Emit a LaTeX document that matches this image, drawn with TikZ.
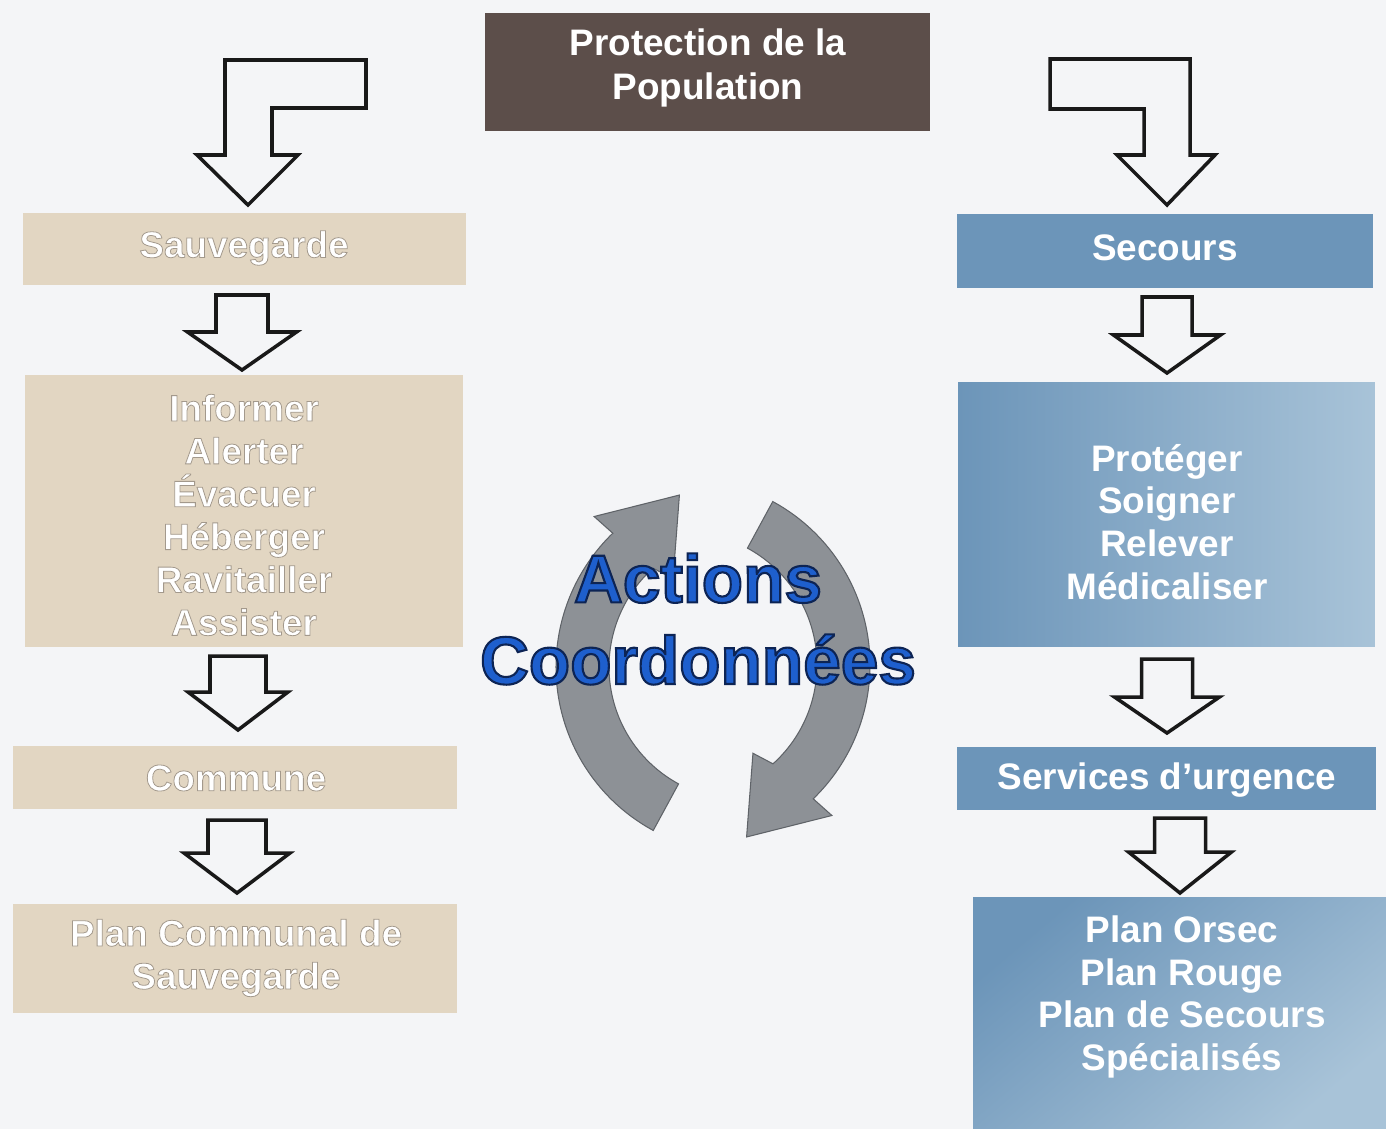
\documentclass[tikz,border=0pt]{standalone}
\usepackage{fontspec}
\setmainfont{Liberation Sans}
\usetikzlibrary{calc}
\definecolor{bg}{RGB}{244,245,247}
\definecolor{topbrown}{RGB}{92,78,74}
\definecolor{beige}{RGB}{226,214,194}
\definecolor{blueD}{RGB}{108,149,185}
\definecolor{blueL}{RGB}{168,195,216}
\definecolor{cgrey}{RGB}{141,145,150}
\definecolor{cgreyline}{RGB}{95,99,104}
\definecolor{actblue}{RGB}{30,95,205}
\definecolor{arrowink}{RGB}{25,25,25}
\newcommand\boxfont{\fontsize{21}{24.4}\selectfont\bfseries}
% outlined text: stroke width, stroke colour (r g b in 0..1)
\newcommand\olon[2]{\special{pdf:literal direct 2 Tr #1 w #2 RG}}
\newcommand\oloff{\special{pdf:literal direct 0 Tr}}
\newcommand\blockdown[6]{%
  \draw[blockarrow] (#1-#5,#2) -- (#1+#5,#2) -- (#1+#5,#3) -- (#1+#6,#3)
    -- (#1,#4) -- (#1-#6,#3) -- (#1-#5,#3) -- cycle;}
\tikzset{
  blockarrow/.style={draw=arrowink, line width=2pt, line join=miter},
  panel/.style={inner sep=0pt, outer sep=0pt, draw=none},
  beigepanel/.style={panel, fill=beige},
  bluepanel/.style={panel, fill=blueD},
  btext/.style={inner sep=0pt, align=center, text=white, font=\boxfont},
  cycarrow/.style={fill=cgrey, draw=cgreyline, line width=0.6pt},
}
\begin{document}
\begin{tikzpicture}[x=0.02cm, y=-0.02cm]
\useasboundingbox (0,0) rectangle (1386,1129);
\fill[bg] (0,0) rectangle (1386,1129);

% top box
\node[panel, fill=topbrown, minimum width=8.9cm, minimum height=2.36cm] (top) at (707.5,72) {};
\node[btext, font=\fontsize{21}{25}\selectfont\bfseries] (topT) at (708,68)
  {Protection de la\\Population};

% left column panels
\node[beigepanel, minimum width=8.86cm, minimum height=1.44cm] (sauv) at (244.5,249) {};
\node[beigepanel, minimum width=8.76cm, minimum height=5.44cm] (inf) at (244,511) {};
\node[beigepanel, minimum width=8.88cm, minimum height=1.26cm] (comm) at (235,777.5) {};
\node[beigepanel, minimum width=8.88cm, minimum height=2.18cm] (pcs) at (235,958.5) {};

\node[btext] (sauvT) at (244,248) {\olon{0.45}{0.64 0.6 0.55}Sauvegarde\oloff};
\node[btext] (infT) at (244,515) {\olon{0.45}{0.64 0.6 0.55}Informer\\Alerter\\Évacuer\\Héberger\\Ravitailler\\Assister\oloff};
\node[btext] (commT) at (236,778) {\olon{0.45}{0.64 0.6 0.55}Commune\oloff};
\node[btext] (pcsT) at (236,958) {\olon{0.45}{0.64 0.6 0.55}Plan Communal de\\Sauvegarde\oloff};

% right column panels
\node[bluepanel, minimum width=8.32cm, minimum height=1.48cm] (sec) at (1165,251) {};
\node[panel, left color=blueD, right color=blueL, minimum width=8.34cm, minimum height=5.3cm] (prot) at (1166.5,514.5) {};
\node[bluepanel, minimum width=8.38cm, minimum height=1.26cm] (serv) at (1166.5,778.5) {};
\node[panel, top color=blueD, bottom color=blueL, shading angle=40, minimum width=8.26cm, minimum height=4.64cm] (plan) at (1179.5,1013) {};

\node[btext] (secT) at (1165,248) {Secours};
\node[btext] (protT) at (1167,522) {Protéger\\Soigner\\Relever\\Médicaliser};
\node[btext] (servT) at (1167,780) {Services d’urgence};
\node[btext] (planT) at (1182,997) {Plan Orsec\\Plan Rouge\\Plan de Secours\\Spécialisés};

% bent arrows from the top box
\draw[blockarrow] (225,60) -- (366,60) -- (366,108) -- (272,108) -- (272,155)
  -- (298,155) -- (248,205) -- (197,155) -- (225,155) -- cycle;
\draw[blockarrow] (1050,59) -- (1190,59) -- (1190,155) -- (1215,155) -- (1167,205)
  -- (1117,155) -- (1144,155) -- (1144,109) -- (1050,109) -- cycle;

% straight block arrows
\blockdown{242}{295}{332}{370}{26}{54.5}
\blockdown{238}{656}{692}{730}{28}{50}
\blockdown{237}{820}{853}{893}{29}{53}
\blockdown{1167}{297}{335}{373}{25}{53.5}
\blockdown{1167}{659}{697}{733}{25.5}{52.5}
\blockdown{1180}{818}{852}{893}{25.5}{51.5}

% circular arrows
\begin{scope}[shift={(684,665)}]
\path[cycarrow] (-61.5:186) arc[start angle=-61.5, end angle=46, radius=186]
  -- (45.5:211) -- (70:183) -- (52:112) -- (48:133)
  arc[start angle=48, end angle=-61.5, radius=133] -- cycle;
\end{scope}
\begin{scope}[shift={(742,667)}]
\path[cycarrow] (118.5:186) arc[start angle=118.5, end angle=226, radius=186]
  -- (225.5:211) -- (250:183) -- (232:112) -- (228:133)
  arc[start angle=228, end angle=118.5, radius=133] -- cycle;
\end{scope}

\node[inner sep=0pt, align=center, text=actblue,
  font=\fontsize{38.5}{46.5}\selectfont\bfseries]
  (act) at (698,619) {\olon{1.2}{0.05 0.14 0.33}Actions\\Coordonnées\oloff};
\end{tikzpicture}
\end{document}
